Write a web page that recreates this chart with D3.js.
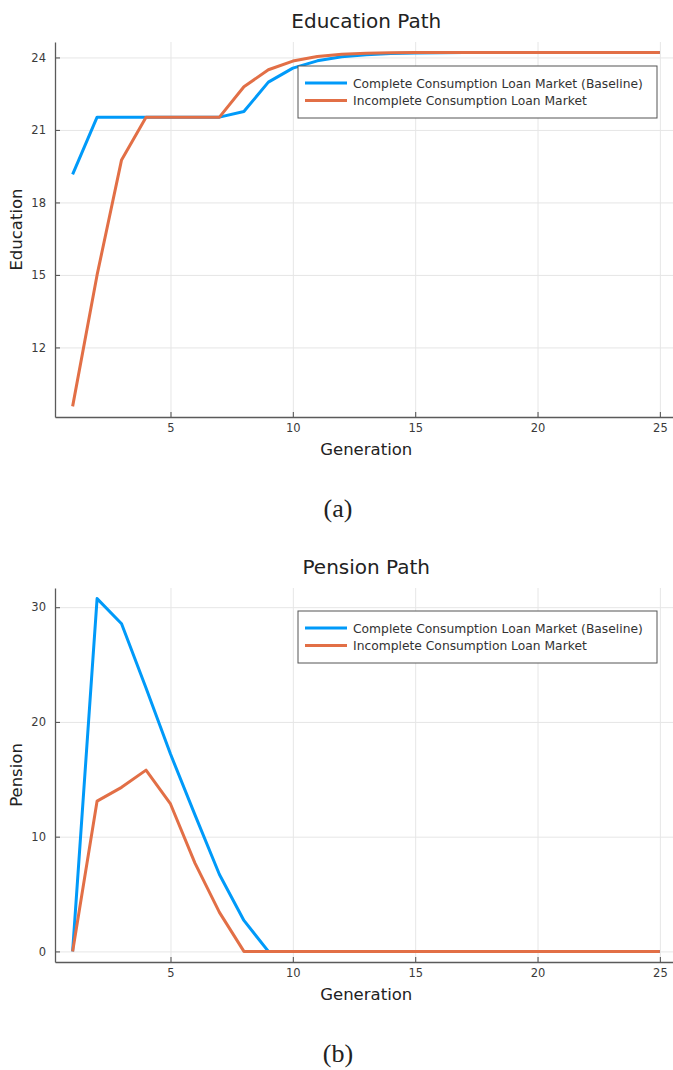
<!DOCTYPE html>
<html>
<head>
<meta charset="utf-8">
<script src="https://cdn.jsdelivr.net/npm/d3@7"></script>
<style>
  html, body { margin: 0; padding: 0; background: #fff; }
  svg { display: block; }
  .tick text { font-family: "DejaVu Sans", sans-serif; font-size: 11.5px; fill: #3a3a3a; }
</style>
</head>
<body>
<svg id="fig" width="673" height="1070"></svg>
<script>
// Generations simulated
const generations = [1, 2, 3, 4, 5, 6, 7, 8, 9, 10, 11, 12, 13, 14, 15, 16, 17, 18, 19, 20, 21, 22, 23, 24, 25];

// Education along the path
const educationComplete = [19.16, 21.53, 21.53, 21.53, 21.53, 21.53, 21.53, 21.76, 22.98, 23.56, 23.86, 24.03, 24.11, 24.16, 24.18, 24.19, 24.2, 24.2, 24.2, 24.2, 24.2, 24.2, 24.2, 24.2, 24.2];
const educationIncomplete = [9.56, 15.0, 19.76, 21.53, 21.53, 21.53, 21.53, 22.79, 23.49, 23.85, 24.04, 24.13, 24.17, 24.19, 24.2, 24.2, 24.2, 24.2, 24.2, 24.2, 24.2, 24.2, 24.2, 24.2, 24.2];

// Pension along the path
const pensionComplete = [0, 30.75, 28.56, 22.95, 17.2, 11.9, 6.7, 2.7, 0, 0, 0, 0, 0, 0, 0, 0, 0, 0, 0, 0, 0, 0, 0, 0, 0];
const pensionIncomplete = [0, 13.1, 14.3, 15.8, 12.85, 7.7, 3.4, 0, 0, 0, 0, 0, 0, 0, 0, 0, 0, 0, 0, 0, 0, 0, 0, 0, 0];

const seriesNames = ["Complete Consumption Loan Market (Baseline)", "Incomplete Consumption Loan Market"];
const seriesColors = ["#009af9", "#e26f46"];

const xTicks = [5, 10, 15, 20, 25];
const eduTicks = [12, 15, 18, 21, 24];
const pensionTicks = [0, 10, 20, 30];

const svg = d3.select("#fig");
svg.append("rect").attr("width", 673).attr("height", 1070).attr("fill", "#fff");

// widen an extent by 3% on each side
function widen(ext) {
  const pad = (ext[1] - ext[0]) * 0.03;
  return [ext[0] - pad, ext[1] + pad];
}

function panel(opts) {
  const { top, bottom, left, right, title, yLabel, series, yTicks, caption, legendTop } = opts;
  const g = svg.append("g");

  const x = d3.scaleLinear().domain(widen(d3.extent(generations))).range([left, right]);
  const allY = series.flat();
  const y = d3.scaleLinear().domain(widen(d3.extent(allY))).range([bottom, top]);

  // grid
  g.append("g")
    .attr("transform", `translate(0,${bottom})`)
    .call(d3.axisBottom(x).tickValues(xTicks).tickSize(-(bottom - top)).tickFormat(""))
    .call(s => s.select(".domain").remove())
    .call(s => s.selectAll("line").attr("stroke", "#e6e6e6").attr("stroke-width", 1));
  g.append("g")
    .attr("transform", `translate(${left},0)`)
    .call(d3.axisLeft(y).tickValues(yTicks).tickSize(-(right - left)).tickFormat(""))
    .call(s => s.select(".domain").remove())
    .call(s => s.selectAll("line").attr("stroke", "#e6e6e6").attr("stroke-width", 1));

  // axes
  const xAxis = g.append("g")
    .attr("transform", `translate(0,${bottom})`)
    .call(d3.axisBottom(x).tickValues(xTicks).tickFormat(d3.format("d"))
      .tickSizeInner(-5).tickSizeOuter(0).tickPadding(7));
  const yAxis = g.append("g")
    .attr("transform", `translate(${left},0)`)
    .call(d3.axisLeft(y).tickValues(yTicks).tickFormat(d3.format("d"))
      .tickSizeInner(-5).tickSizeOuter(0).tickPadding(9));
  [xAxis, yAxis].forEach(a => {
    a.select(".domain").attr("stroke", "#5a5a5a").attr("stroke-width", 1.3);
    a.selectAll(".tick line").attr("stroke", "#5a5a5a").attr("stroke-width", 1.1);
  });

  // lines
  const line = d3.line()
    .x((d, i) => x(generations[i]))
    .y(d => y(d));
  series.forEach((s, k) => {
    g.append("path")
      .datum(s)
      .attr("fill", "none")
      .attr("stroke", seriesColors[k])
      .attr("stroke-width", 3)
      .attr("stroke-linejoin", "round")
      .attr("d", line);
  });

  // title
  g.append("text")
    .attr("x", (left + right) / 2)
    .attr("y", top - 14)
    .attr("text-anchor", "middle")
    .attr("font-family", "DejaVu Sans, sans-serif")
    .attr("font-size", 20)
    .attr("fill", "#222")
    .text(title);

  // axis labels
  g.append("text")
    .attr("x", (left + right) / 2)
    .attr("y", bottom + 38)
    .attr("text-anchor", "middle")
    .attr("font-family", "DejaVu Sans, sans-serif")
    .attr("font-size", 16.5)
    .attr("fill", "#222")
    .text("Generation");
  g.append("text")
    .attr("transform", `translate(22,${(top + bottom) / 2}) rotate(-90)`)
    .attr("text-anchor", "middle")
    .attr("font-family", "DejaVu Sans, sans-serif")
    .attr("font-size", 16.5)
    .attr("fill", "#222")
    .text(yLabel);

  // legend
  const lg = g.append("g").attr("transform", `translate(298,${legendTop})`);
  lg.append("rect")
    .attr("width", 359).attr("height", 52)
    .attr("fill", "#fff").attr("stroke", "#555").attr("stroke-width", 1);
  seriesNames.forEach((name, k) => {
    const yy = 17 + k * 17.5;
    lg.append("line")
      .attr("x1", 7).attr("x2", 49).attr("y1", yy).attr("y2", yy)
      .attr("stroke", seriesColors[k]).attr("stroke-width", 3);
    lg.append("text")
      .attr("x", 55).attr("y", yy + 4.5)
      .attr("font-family", "DejaVu Sans, sans-serif")
      .attr("font-size", 12.3)
      .attr("fill", "#333")
      .text(name);
  });

  // caption
  svg.append("text")
    .attr("x", 338)
    .attr("y", caption.y)
    .attr("text-anchor", "middle")
    .attr("font-family", "Liberation Serif, serif")
    .attr("font-size", 26)
    .attr("fill", "#222")
    .text(caption.text);
}

panel({
  top: 42, bottom: 417, left: 55, right: 677.5,
  title: "Education Path",
  yLabel: "Education",
  series: [educationComplete, educationIncomplete],
  yTicks: eduTicks,
  caption: { text: "(a)", y: 517 },
  legendTop: 66
});

panel({
  top: 588, bottom: 962, left: 55, right: 677.5,
  title: "Pension Path",
  yLabel: "Pension",
  series: [pensionComplete, pensionIncomplete],
  yTicks: pensionTicks,
  caption: { text: "(b)", y: 1062 },
  legendTop: 611
});
</script>
</body>
</html>
